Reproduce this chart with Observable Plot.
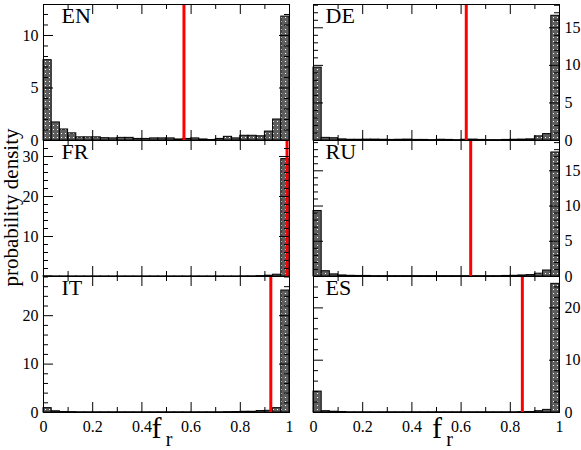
<!DOCTYPE html>
<html><head><meta charset="utf-8">
<script src="https://cdn.jsdelivr.net/npm/d3@7"></script>
<script src="https://cdn.jsdelivr.net/npm/@observablehq/plot@0.6"></script>
<style>
body{margin:0;background:#fff;}
#chart{position:relative;width:581px;height:450px;overflow:hidden;background:#fff;}
#chart svg{position:absolute;}
</style></head><body><div id="chart"></div>
<script>
// ---- data ----
const nBins = 30;
const binLo = d3.range(nBins).map(i => i / nBins);
const languages = ["EN", "DE", "FR", "RU", "IT", "ES"];
const EN = [7.65, 1.72, 1.05, 0.68, 0.3, 0.3, 0.3, 0.22, 0.2, 0.25, 0.25, 0.15, 0.15, 0.2, 0.2, 0.2, 0.1, 0.15, 0.2, 0.1, 0.05, 0.15, 0.35, 0.2, 0.45, 0.45, 0.4, 0.85, 2.0, 11.8];
const DE = [9.7, 0.35, 0.3, 0.15, 0.1, 0.1, 0.12, 0.12, 0.1, 0.08, 0.1, 0.12, 0.08, 0.08, 0.05, 0.1, 0.08, 0.05, 0.1, 0.12, 0.08, 0.05, 0.05, 0.08, 0.1, 0.12, 0.15, 0.55, 0.85, 16.6];
const FR = [0.06, 0.03, 0.03, 0.03, 0.03, 0.03, 0.03, 0.03, 0.03, 0.03, 0.03, 0.03, 0.03, 0.03, 0.03, 0.03, 0.03, 0.03, 0.03, 0.03, 0.03, 0.03, 0.03, 0.03, 0.05, 0.05, 0.1, 0.2, 0.45, 29.35];
const RU = [9.3, 0.75, 0.3, 0.15, 0.1, 0.08, 0.08, 0.05, 0.05, 0.05, 0.05, 0.05, 0.05, 0.05, 0.05, 0.05, 0.05, 0.05, 0.05, 0.05, 0.05, 0.05, 0.05, 0.08, 0.1, 0.15, 0.2, 0.4, 0.85, 17.6];
const IT = [0.9, 0.25, 0.1, 0.08, 0.05, 0.05, 0.05, 0.05, 0.05, 0.05, 0.05, 0.05, 0.05, 0.05, 0.05, 0.05, 0.05, 0.05, 0.05, 0.05, 0.05, 0.05, 0.08, 0.1, 0.15, 0.15, 0.3, 0.35, 0.9, 25.2];
const ES = [4.0, 0.25, 0.15, 0.1, 0.05, 0.05, 0.05, 0.05, 0.05, 0.05, 0.05, 0.05, 0.05, 0.05, 0.05, 0.05, 0.05, 0.05, 0.05, 0.05, 0.05, 0.05, 0.05, 0.05, 0.05, 0.08, 0.1, 0.25, 0.5, 24.6];
const seriesValues = [EN, DE, FR, RU, IT, ES];
const redLines = [0.571, 0.621, 0.99, 0.639, 0.924, 0.849];
const yMax = [12.95, 18.1, 34, 19.3, 28.1, 26];
const yMajorStep = [5, 5, 10, 5, 10, 10];
const yMinorStep = [1, 1, 2, 1, 2, 2];
const xTickLabels = [0, 0.2, 0.4, 0.6, 0.8, 1];
const xMinorTicks = [0.1, 0.3, 0.5, 0.7, 0.9];
const yLabel = "probability density";

// ---- layout ----
const W = 246, H = 136;
const frameLeft = [43, 313];
const frameTop = [4, 140, 276];
const mLeft = [43, 13], mRight = [8, 22];
const mT = 4, mB = 40;
const chart = document.getElementById("chart");

languages.forEach((lang, i) => {
  const col = i % 2, row = Math.floor(i / 2);
  const vals = seriesValues[i];
  const bins = binLo.map((lo, k) => ({x1: lo, x2: lo + 1 / nBins, v: vals[k]}));
  const majors = d3.range(0, yMax[i] + 1e-9, yMajorStep[i]);
  const minors = d3.range(0, yMax[i] + 1e-9, yMinorStep[i]).filter(d => d % yMajorStep[i] !== 0);
  const patId = "pat" + i;
  const marks = [
    Plot.rect(bins, {x1: "x1", x2: "x2", y1: 0, y2: "v", fill: `url(#${patId})`, stroke: "black", strokeWidth: 1}),
    Plot.ruleX([redLines[i]], {stroke: "#ff0000", strokeWidth: 3}),
    // x ticks (inward, top and bottom)
    Plot.tickX(xTickLabels, {insetTop: H - 10, stroke: "black"}),
    Plot.tickX(xTickLabels, {insetBottom: H - 10, stroke: "black"}),
    Plot.tickX(xMinorTicks, {insetTop: H - 5, stroke: "black"}),
    Plot.tickX(xMinorTicks, {insetBottom: H - 5, stroke: "black"}),
    // y ticks (inward, left and right)
    Plot.tickY(majors, {insetRight: W - 10, stroke: "black"}),
    Plot.tickY(majors, {insetLeft: W - 10, stroke: "black"}),
    Plot.tickY(minors, {insetRight: W - 5, stroke: "black"}),
    Plot.tickY(minors, {insetLeft: W - 5, stroke: "black"}),
    Plot.frame({stroke: "black"}),
    Plot.axisY({ticks: majors, anchor: col === 0 ? "left" : "right", tickSize: 0, tickPadding: 5, label: null, tickFormat: d => String(d), fontSize: 16}),
    Plot.text([lang], {text: d => d, frameAnchor: "top-left", dx: col === 0 ? 18 : 12, dy: 3, lineAnchor: "top", textAnchor: "start", fontSize: 22})
  ];
  if (row === 2) {
    marks.push(
      Plot.axisX({ticks: xTickLabels, anchor: "bottom", tickSize: 0, tickPadding: 8, label: null, tickFormat: d => String(d), fontSize: 16}),
      Plot.text(["f"], {text: d => d, frameAnchor: "bottom", textAnchor: "middle", dx: col === 0 ? -10 : 0.5, dy: 25.5, lineAnchor: "bottom", fontSize: 30}),
      Plot.text(["r"], {text: d => d, frameAnchor: "bottom", textAnchor: "middle", dx: col === 0 ? 2.5 : 13, dy: 33, lineAnchor: "bottom", fontSize: 20})
    );
  }
  if (i === 2) {
    marks.push(Plot.text([yLabel], {text: d => d, frameAnchor: "left", textAnchor: "middle", dx: -32, dy: -1, rotate: -90, fontSize: 21}));
  }
  const svg = Plot.plot({
    width: mLeft[col] + W + mRight[col],
    height: mT + H + mB,
    marginLeft: mLeft[col], marginRight: mRight[col], marginTop: mT, marginBottom: mB,
    x: {domain: [0, 1], axis: null},
    y: {domain: [0, yMax[i]], axis: null},
    style: {background: "transparent", overflow: "visible", fontFamily: "'Liberation Serif', 'DejaVu Serif', serif", fontSize: "16px", color: "black"},
    marks
  });
  const defs = d3.select(svg).insert("defs", ":first-child");
  const p = defs.append("pattern").attr("id", patId).attr("patternUnits", "userSpaceOnUse").attr("width", 4).attr("height", 4);
  p.append("rect").attr("width", 4).attr("height", 4).attr("fill", "#5e5e5e");
  p.append("rect").attr("x", 1).attr("y", 1).attr("width", 1).attr("height", 1).attr("fill", "#ffffff");
  svg.style.left = (frameLeft[col] - mLeft[col]) + "px";
  svg.style.top = (frameTop[row] - mT) + "px";
  chart.appendChild(svg);
});
</script>
</body></html>
